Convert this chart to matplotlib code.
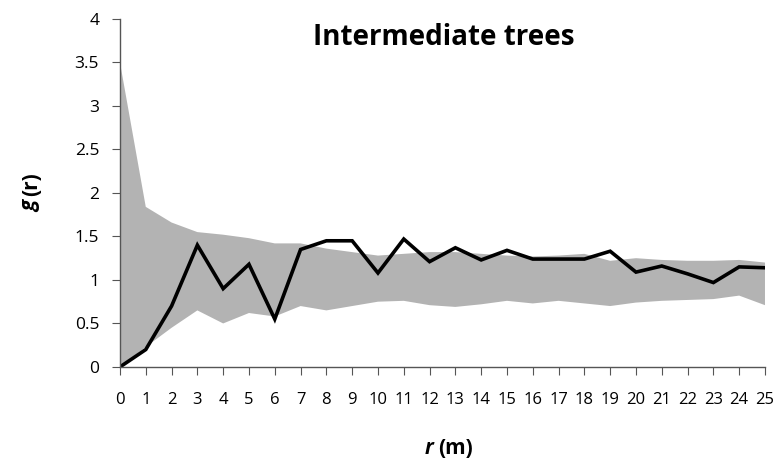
import matplotlib.pyplot as plt

r = list(range(26))
g_obs = [0, 0.2, 0.7, 1.4, 0.9, 1.18, 0.55, 1.35, 1.45, 1.45, 1.08, 1.47, 1.21,
         1.37, 1.23, 1.34, 1.24, 1.24, 1.24, 1.33, 1.09, 1.16, 1.07, 0.97, 1.15, 1.14]
env_high = [3.5, 1.84, 1.66, 1.55, 1.52, 1.48, 1.42, 1.42, 1.36, 1.32, 1.28, 1.30, 1.32,
            1.32, 1.30, 1.28, 1.27, 1.28, 1.30, 1.22, 1.25, 1.23, 1.22, 1.22, 1.23, 1.20]
env_low = [0, 0.23, 0.45, 0.65, 0.5, 0.62, 0.58, 0.7, 0.65, 0.7, 0.75, 0.76, 0.71,
           0.69, 0.72, 0.76, 0.73, 0.76, 0.73, 0.70, 0.74, 0.76, 0.77, 0.78, 0.82, 0.71]
y_ticks = [0, 0.5, 1, 1.5, 2, 2.5, 3, 3.5, 4]

plt.rcParams['font.family'] = ['Open Sans', 'DejaVu Sans']

fig = plt.figure(figsize=(7.79, 4.61), dpi=100)
ax = fig.add_axes([0.154, 0.204, 0.828, 0.755])

ax.fill_between(r, env_low, env_high, facecolor='#b3b3b3', edgecolor='none')
ax.plot(r, g_obs, color='black', lw=2.6, solid_joinstyle='miter')

ax.set_xlim(0, 25)
ax.set_ylim(0, 4)
ax.set_xticks(r)
ax.set_xticklabels([str(v) for v in r], fontsize=12)
ax.set_yticks(y_ticks)
ax.set_yticklabels([f'{v:g}' for v in y_ticks], fontsize=12.5)
ax.tick_params(axis='both', direction='out', length=6, color='#555555')
ax.tick_params(axis='x', pad=12)
ax.tick_params(axis='y', pad=9)

for side in ['top', 'right']:
    ax.spines[side].set_visible(False)
for side in ['left', 'bottom']:
    ax.spines[side].set_color('#555555')
    ax.spines[side].set_linewidth(1)

# title and axis labels placed on the figure
fig.text(0.569, 0.902, 'Intermediate trees', fontsize=20, fontweight='bold',
         ha='center', va='baseline')
fig.text(0.556, 0.028, 'r', fontsize=15, fontweight='bold', style='italic',
         ha='right', va='center')
fig.text(0.562, 0.028, '(m)', fontsize=15, fontweight='bold', ha='left', va='center')
fig.text(0.04, 0.565, 'g', fontsize=15, fontweight='bold', style='italic',
         rotation=90, va='top', ha='center')
fig.text(0.04, 0.575, '(r)', fontsize=15, fontweight='bold', rotation=90,
         va='bottom', ha='center')

fig.savefig('out.png', dpi=100)
